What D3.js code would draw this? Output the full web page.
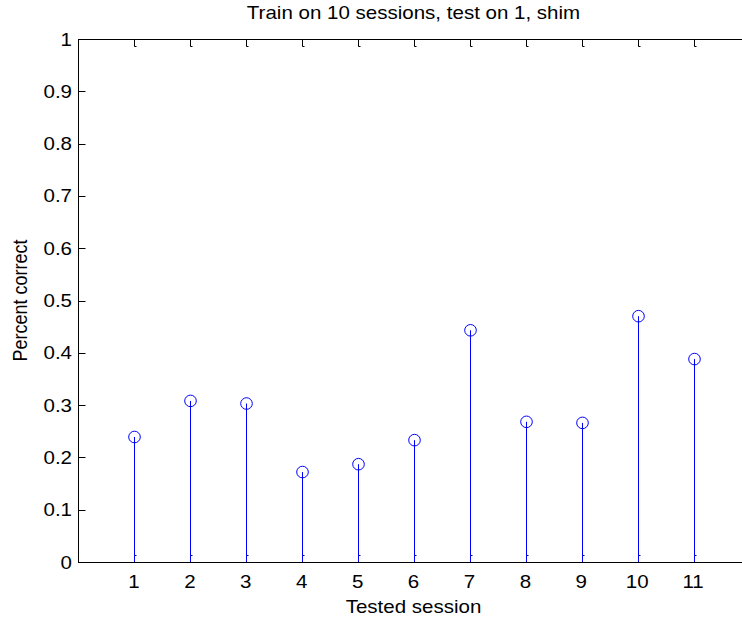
<!DOCTYPE html>
<html>
<head>
<meta charset="utf-8">
<script src="https://cdn.jsdelivr.net/npm/d3@7"></script>
<style>
  html, body { margin: 0; padding: 0; background: #fff; }
  svg { display: block; font-family: "Liberation Sans", Arial, sans-serif; }
</style>
</head>
<body>
<svg id="chart" width="742" height="620"></svg>
<script>
// Stem plot: percent correct per tested session
const sessions = [1, 2, 3, 4, 5, 6, 7, 8, 9, 10, 11];
const percentCorrect = [0.239, 0.308, 0.303, 0.172, 0.187, 0.233, 0.443, 0.268, 0.266, 0.470, 0.388];
const yTicks = [0, 0.1, 0.2, 0.3, 0.4, 0.5, 0.6, 0.7, 0.8, 0.9, 1];
const xTicks = [1, 2, 3, 4, 5, 6, 7, 8, 9, 10, 11];

const titleText = "Train on 10 sessions, test on 1, shim";
const xLabelText = "Tested session";
const yLabelText = "Percent correct";

const svg = d3.select("#chart");
const box = { left: 78, top: 39, right: 749, bottom: 562 };

const x = d3.scaleLinear().domain([0, 12]).range([box.left, box.right]);
const y = d3.scaleLinear().domain([0, 1]).range([box.bottom, box.top]);

// snap 1px lines onto pixel centres
const px = (v) => Math.round(v) + 0.5;
// stems sit on even pixel columns
const sx = (v) => 2 * Math.round(v / 2) + 0.5;

const tickLen = 7;
const fontSize = 18;
const stretch = 1.14;   // wide text face
const stemColor = "#0000ff";

// Ticks (inward, on all four sides)
const ticks = svg.append("g").attr("stroke", "#000").attr("stroke-width", 1).attr("fill", "none");
xTicks.forEach((t) => {
  const xp = sx(x(t));
  ticks.append("path").attr("d", `M${xp},${px(y(0))}V${px(y(0)) - tickLen}h2`);
  ticks.append("path").attr("d", `M${xp},${px(y(1))}V${px(y(1)) + tickLen}h2`);
});
yTicks.forEach((t) => {
  const yp = px(y(t));
  ticks.append("line").attr("x1", px(x(0))).attr("x2", px(x(0)) + tickLen)
    .attr("y1", yp).attr("y2", yp);
  ticks.append("line").attr("x1", px(x(12))).attr("x2", px(x(12)) - tickLen)
    .attr("y1", yp).attr("y2", yp);
});

// Stems
svg.append("g")
  .selectAll("line")
  .data(sessions)
  .join("line")
  .attr("x1", (d) => sx(x(d)))
  .attr("x2", (d) => sx(x(d)))
  .attr("y1", px(y(0)))
  .attr("y2", (d, i) => y(percentCorrect[i]))
  .attr("stroke", stemColor)
  .attr("stroke-width", 1);

// Axes box
svg.append("rect")
  .attr("x", px(x(0))).attr("y", px(y(1)))
  .attr("width", Math.round(x(12)) - Math.round(x(0)))
  .attr("height", Math.round(y(0)) - Math.round(y(1)))
  .attr("fill", "none").attr("stroke", "#000").attr("stroke-width", 1);

// Markers
svg.append("g")
  .selectAll("circle")
  .data(sessions)
  .join("circle")
  .attr("cx", (d) => sx(x(d)))
  .attr("cy", (d, i) => y(percentCorrect[i]))
  .attr("r", 5.8)
  .attr("fill", "none")
  .attr("stroke", stemColor)
  .attr("stroke-width", 1);

// Text helper: wide, horizontally stretched labels
function label(g, tx, ty, str, anchor, rot) {
  return g.append("text")
    .attr("transform", `translate(${tx},${ty}) scale(${stretch},1)` + (rot ? ` rotate(${rot})` : ""))
    .attr("text-anchor", anchor)
    .attr("font-size", fontSize)
    .attr("fill", "#000")
    .text(str);
}

const xl = svg.append("g");
xTicks.forEach((t) => label(xl, x(t), 588, t, "middle"));

const yl = svg.append("g");
yTicks.forEach((t) => label(yl, x(0) - 6, y(t) + 6.5, d3.format("")(t), "end"));

// Title and axis labels
label(svg, (x(0) + x(12)) / 2, 19, titleText, "middle");
label(svg, (x(0) + x(12)) / 2, 613, xLabelText, "middle");
label(svg, 27, (y(0) + y(1)) / 2, yLabelText, "middle", -90);
</script>
</body>
</html>
